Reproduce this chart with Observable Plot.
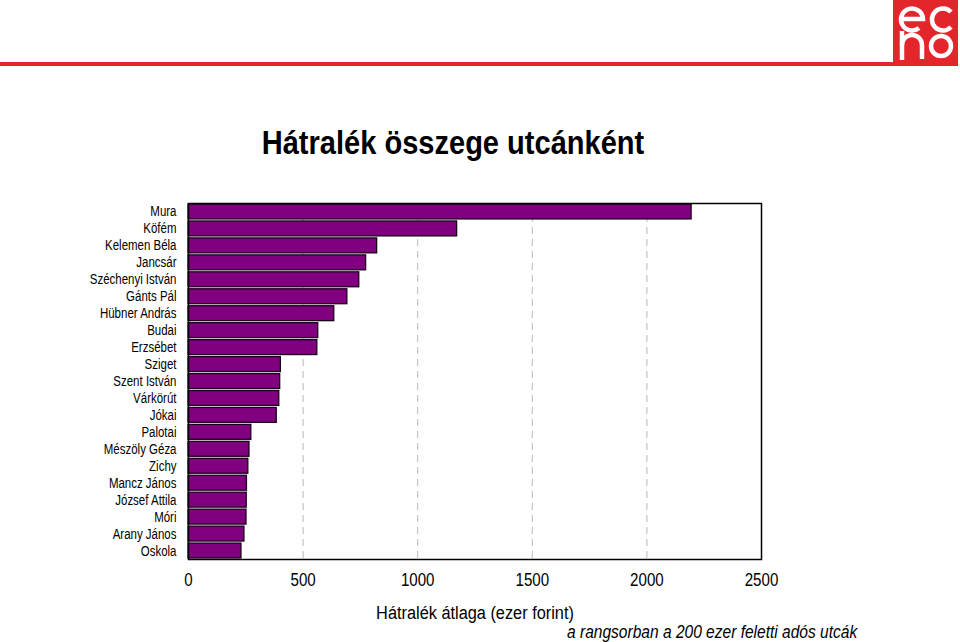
<!DOCTYPE html>
<html>
<head>
<meta charset="utf-8">
<script src="https://cdn.jsdelivr.net/npm/d3@7"></script>
<script src="https://cdn.jsdelivr.net/npm/@observablehq/plot@0.6"></script>
<style>
  html, body { margin: 0; padding: 0; background: #fff; }
  #wrap { position: relative; width: 960px; height: 642px; overflow: hidden; font-family: "Liberation Sans Narrow", "Arial Narrow", "Liberation Sans", Arial, sans-serif; }
  #chart { position: absolute; left: 0; top: 0; }
  #title { position: absolute; left: 0; width: 906px; top: 126px; text-align: center; font-size: 33px; line-height: 33px; font-weight: bold; color: #000; transform: scaleX(0.88); transform-origin: 453px 0; }
  #caption { position: absolute; right: 103px; top: 623px; font-size: 18px; line-height: 18px; font-style: italic; color: #000; white-space: nowrap; transform: scaleX(0.863); transform-origin: 100% 0; }
  #logo { position: absolute; left: 0; top: 0; }
</style>
</head>
<body>
<div id="wrap">
  <svg id="logo" width="960" height="70">
    <rect x="0" y="62" width="958" height="4" fill="#e3262b"></rect>
    <rect x="893" y="0" width="65" height="63" fill="#e3262b"></rect>
    <g fill="none" stroke="#fff" stroke-width="4.5" stroke-linecap="butt">
      <path d="M901 19 H923 A11 11 0 1 0 919 28"></path>
      <path d="M951 12 A11 11 0 1 0 951 27"></path>
      <path d="M902 31 V60"></path>
      <path d="M902 45 A10 10 0 1 1 922 45 V59"></path>
      <circle cx="941" cy="46" r="10"></circle>
    </g>
  </svg>
  <div id="title">Hátralék összege utcánként</div>
  <div id="chart"></div>
  <div id="caption">a rangsorban a 200 ezer feletti adós utcák</div>
</div>
<script>
const streets = ["Mura", "Köfém", "Kelemen Béla", "Jancsár", "Széchenyi István", "Gánts Pál", "Hübner András", "Budai", "Erzsébet", "Sziget", "Szent István", "Várkörút", "Jókai", "Palotai", "Mészöly Géza", "Zichy", "Mancz János", "József Attila", "Móri", "Arany János", "Oskola"];
const values = [2195, 1172, 823, 775, 745, 693, 636, 566, 562, 403, 400, 396, 385, 274, 266, 261, 255, 254, 253, 244, 231];
const xTicks = [0, 500, 1000, 1500, 2000, 2500];
const gridValues = [500, 1000, 1500, 2000];
const xLabel = "Hátralék átlaga (ezer forint)";

const data = streets.map((s, i) => ({street: s, value: values[i]}));
const font = '"Liberation Sans Narrow", "Arial Narrow", "Liberation Sans", Arial, sans-serif';

const chart = Plot.plot({
  width: 960,
  height: 642,
  marginTop: 203,
  marginBottom: 83,
  marginLeft: 188,
  marginRight: 199,
  style: {fontFamily: font, color: "#000", background: "transparent", overflow: "visible"},
  x: {domain: [0, 2500]},
  y: {domain: streets, paddingInner: 0.12, paddingOuter: 0.06, align: 0.5, round: false},
  marks: [
    Plot.ruleX(gridValues, {stroke: "#b8b8b8", strokeWidth: 1, strokeDasharray: "7,5"}),
    Plot.barX(data, {x: "value", y: "street", fill: "#800080", stroke: "#1a001a", strokeWidth: 1.3}),
    Plot.frame({stroke: "#000", strokeWidth: 1.5}),
    Plot.axisX({ticks: xTicks, tickSize: 0, tickPadding: 14, fontSize: 18, label: null, tickFormat: d => String(d), className: "narrow-x"}),
    Plot.axisY({tickSize: 0, tickPadding: 12, fontSize: 14, label: null, className: "narrow-y"}),
    Plot.text([xLabel], {frameAnchor: "bottom", dy: 59, lineAnchor: "bottom", textAnchor: "middle", fontSize: 19, text: d => d, className: "narrow-l"})
  ]
});

// emulate a narrow (Arial Narrow-like) face by squeezing text horizontally about its anchor
function squeeze(sel, s) {
  chart.querySelectorAll(sel).forEach(t => {
    const x = parseFloat(t.getAttribute("x") || "0");
    const tr = t.getAttribute("transform") || "";
    t.setAttribute("transform", `${tr} translate(${x},0) scale(${s},1) translate(${-x},0)`);
  });
}
squeeze("g[aria-label='y-axis tick label'] text", 0.82);
squeeze("g[aria-label='x-axis tick label'] text", 0.84);
squeeze("g.narrow-l text, .narrow-l text", 0.86);
document.getElementById("chart").appendChild(chart);
</script>
</body>
</html>
